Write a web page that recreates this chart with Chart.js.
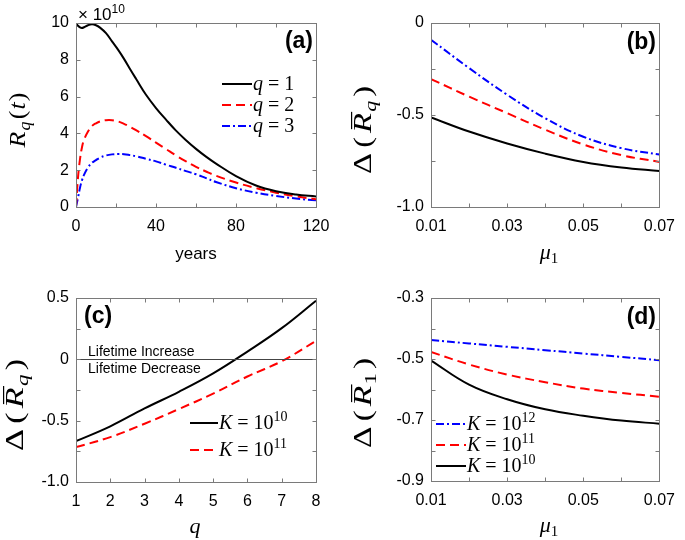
<!DOCTYPE html>
<html>
<head>
<meta charset="utf-8">
<script src="https://cdn.jsdelivr.net/npm/chart.js@4.4.1/dist/chart.umd.min.js"></script>
<style>
  body { margin:0; background:#fff; }
  #wrap { position:relative; width:685px; height:540px; }
  canvas { position:absolute; }
</style>
</head>
<body>
<div id="wrap">
  <canvas id="pa" width="340" height="270" style="left:0;top:0"></canvas>
  <canvas id="pb" width="345" height="270" style="left:340px;top:0"></canvas>
  <canvas id="pc" width="340" height="270" style="left:0;top:270px"></canvas>
  <canvas id="pd" width="345" height="270" style="left:340px;top:270px"></canvas>
</div>
<script>
// panel (a): R_q(t), units of 1e10
var years = [0,1,2,3,4,6,8,10,12,15,18,21,24,27,30,35,40,45,50,55,60,65,70,80,90,100,110,120];
var rq1 = [10.0,9.85,9.76,9.73,9.77,9.88,9.93,9.88,9.75,9.45,9.0,8.55,8.05,7.5,6.97,6.1,5.38,4.75,4.15,3.63,3.16,2.74,2.36,1.68,1.17,0.86,0.68,0.57];
var rq2 = [0,1.6,2.6,3.25,3.65,4.1,4.4,4.55,4.65,4.72,4.72,4.65,4.52,4.36,4.18,3.85,3.5,3.15,2.8,2.48,2.18,1.93,1.7,1.33,1.03,0.78,0.58,0.42];
var rq3 = [0,0.5,1.05,1.45,1.75,2.15,2.4,2.55,2.68,2.8,2.86,2.88,2.87,2.82,2.76,2.62,2.48,2.3,2.13,1.95,1.78,1.57,1.36,1.02,0.78,0.6,0.46,0.36];
var aXTicks = [0,20,40,60,80,100,120];
var aXLabels = ['0','','40','','80','','120'];
var aYTicks = [0,2,4,6,8,10];
var aYLabels = ['0','2','4','6','8','10'];

// panel (b): Delta(R_q) vs mu1
var mu = [0.01,0.02,0.03,0.04,0.05,0.06,0.07];
var bq1 = [-0.513,-0.59,-0.655,-0.71,-0.755,-0.785,-0.805];
var bq2 = [-0.305,-0.40,-0.49,-0.58,-0.66,-0.718,-0.755];
var bq3 = [-0.091,-0.245,-0.39,-0.518,-0.618,-0.68,-0.715];
var muLabels = ['0.01','','0.03','','0.05','','0.07'];
var bYTicks = [-1,-0.75,-0.5,-0.25,0];
var bYLabels = ['-1.0','','-0.5','','0'];

// panel (c): Delta(R_q) vs q
var qs = [1,2,3,4,5,6,7,8];
var cK10 = [-0.667,-0.546,-0.40,-0.265,-0.115,0.063,0.254,0.478];
var cK11 = [-0.716,-0.634,-0.525,-0.405,-0.28,-0.14,-0.015,0.15];
var cXLabels = ['1','2','3','4','5','6','7','8'];
var cYTicks = [-1,-0.75,-0.5,-0.25,0,0.25,0.5];
var cYLabels = ['-1.0','','-0.5','','0','','0.5'];

// panel (d): Delta(R_1) vs mu1
var dK12 = [-0.438,-0.449,-0.46,-0.471,-0.482,-0.493,-0.504];
var dK11 = [-0.477,-0.518,-0.551,-0.576,-0.597,-0.611,-0.624];
var dK10 = [-0.505,-0.584,-0.632,-0.665,-0.686,-0.702,-0.712];
var dYTicks = [-0.9,-0.8,-0.7,-0.6,-0.5,-0.4,-0.3];
var dYLabels = ['-0.9','','-0.7','','-0.5','','-0.3'];

var SANS = '"Liberation Sans", Arial, sans-serif';
var SERIF = '"Liberation Serif", "Times New Roman", serif';
function it(s) { return 'italic ' + s + 'px ' + SERIF; }
function rm(s) { return s + 'px ' + SERIF; }

var solid = [], dashed = [9,5], dashdot = [8,3,2,3];

function pts(xs, ys) { return xs.map(function(x, i) { return {x: x, y: ys[i]}; }); }

function ds(label, xs, ys, color, dash) {
    return {
        label: label,
        data: pts(xs, ys),
        borderColor: color,
        borderDash: dash,
        borderWidth: 2,
        pointRadius: 0,
        fill: false,
        tension: 0.4
    };
}

// text made of parts [text, font, dy, overlineHeight, gapAfter]
function measure(ctx, parts) {
    var w = 0;
    parts.forEach(function(p) { ctx.font = p[1]; w += ctx.measureText(p[0]).width + (p[4] || 0); });
    return w;
}
function rich(ctx, parts, x, y, align) {
    var w = measure(ctx, parts);
    var cx = align === 'center' ? x - w / 2 : (align === 'right' ? x - w : x);
    ctx.textAlign = 'left';
    ctx.textBaseline = 'alphabetic';
    parts.forEach(function(p) {
        ctx.font = p[1];
        var pw = ctx.measureText(p[0]).width;
        ctx.fillText(p[0], cx, y + (p[2] || 0));
        if (p[3]) ctx.fillRect(cx + 3, y - p[3], pw - 2, 1.2);
        cx += pw + (p[4] || 0);
    });
}
function yTitle(ctx, parts, baseX, cy, len) {
    ctx.save();
    ctx.translate(baseX, cy);
    ctx.rotate(-Math.PI / 2);
    var w = measure(ctx, parts);
    ctx.scale(len / w, 1);
    rich(ctx, parts, 0, 0, 'center');
    ctx.restore();
}

function drawFrame(chart, ex) {
    var ctx = chart.ctx, a = chart.chartArea, sx = chart.scales.x, sy = chart.scales.y;
    ctx.save();
    if (ex.zeroLine) {
        var zy = Math.round(sy.getPixelForValue(0)) + 0.5;
        ctx.strokeStyle = '#444'; ctx.lineWidth = 1;
        ctx.beginPath(); ctx.moveTo(a.left, zy); ctx.lineTo(a.right, zy); ctx.stroke();
    }
    ctx.strokeStyle = '#7a7a7a';
    ctx.lineWidth = 1;
    var L = Math.round(a.left) + 0.5, R = Math.round(a.right) + 0.5;
    var T = Math.round(a.top) + 0.5, B = Math.round(a.bottom) + 0.5;
    ctx.strokeRect(L, T, R - L, B - T);
    ctx.beginPath();
    sx.ticks.forEach(function(t) {
        var px = Math.round(sx.getPixelForValue(t.value)) + 0.5;
        ctx.moveTo(px, B); ctx.lineTo(px, B - 4);
        ctx.moveTo(px, T); ctx.lineTo(px, T + 4);
    });
    sy.ticks.forEach(function(t) {
        var py = Math.round(sy.getPixelForValue(t.value)) + 0.5;
        ctx.moveTo(L, py); ctx.lineTo(L + 4, py);
        ctx.moveTo(R, py); ctx.lineTo(R - 4, py);
    });
    ctx.stroke();

    ctx.fillStyle = '#000';
    var lg = ex.legend;
    if (lg) {
        chart.data.datasets.forEach(function(d, i) {
            var y = lg.y + i * lg.step;
            ctx.strokeStyle = d.borderColor; ctx.lineWidth = 2;
            ctx.setLineDash(d.borderDash);
            ctx.beginPath(); ctx.moveTo(lg.x, y); ctx.lineTo(lg.x + lg.w, y); ctx.stroke();
            ctx.setLineDash([]);
            rich(ctx, lg.texts[i], lg.x + lg.w + 1, y + 6, 'left');
        });
    }
    ctx.font = 'bold 23px ' + SANS;
    ctx.textAlign = ex.tag.align; ctx.textBaseline = 'alphabetic';
    ctx.fillText(ex.tag.text, ex.tag.x, ex.tag.y);
    rich(ctx, ex.xTitle.parts, ex.xTitle.x, ex.xTitle.y, 'center');
    yTitle(ctx, ex.yTitle.parts, ex.yTitle.x, ex.yTitle.y, ex.yTitle.len);
    if (ex.draw) ex.draw(ctx);
    ctx.restore();
}

function makeChart(id, datasets, cfg) {
    return new Chart(document.getElementById(id), {
        type: 'line',
        data: { datasets: datasets },
        plugins: [{ id: 'frame', afterDraw: function(chart) { drawFrame(chart, cfg.extra); } }],
        options: {
            responsive: false,
            animation: false,
            devicePixelRatio: 1,
            layout: { padding: { left: 0, top: cfg.top, right: cfg.w - cfg.right, bottom: 0 } },
            plugins: { legend: { display: false }, tooltip: { enabled: false } },
            scales: {
                x: {
                    type: 'linear', min: cfg.xMin, max: cfg.xMax,
                    grid: { display: false, drawTicks: false },
                    border: { display: false },
                    afterBuildTicks: function(s) { s.ticks = cfg.xTicks.map(function(v) { return {value: v}; }); },
                    afterFit: function(s) { s.height = 270 - cfg.bottom; },
                    ticks: { autoSkip: false, maxRotation: 0, padding: 10, color: '#000',
                        font: { family: SANS, size: 16 },
                        callback: function(v, i) { return cfg.xLabels[i]; } }
                },
                y: {
                    min: cfg.yMin, max: cfg.yMax,
                    grid: { display: false, drawTicks: false },
                    border: { display: false },
                    afterBuildTicks: function(s) { s.ticks = cfg.yTicks.map(function(v) { return {value: v}; }); },
                    afterFit: function(s) { s.width = cfg.left; },
                    ticks: { autoSkip: false, padding: 7, color: '#000',
                        font: { family: SANS, size: 16 },
                        callback: function(v, i) { return cfg.yLabels[i]; } }
                }
            }
        }
    });
}

var deltaRq = [['\u0394', rm(25), 0, 0, 4], ['(', rm(25), 0, 0, 3], ['R', it(25), 0, 20, 1], ['q', it(17), 5, 0, 3], [')', rm(25)]];
var deltaR1 = [['\u0394', rm(25), 0, 0, 4], ['(', rm(25), 0, 0, 3], ['R', it(25), 0, 20, 1], ['1', rm(17), 5, 0, 3], [')', rm(25)]];
var muTitle = [['\u03bc', it(22)], ['1', rm(15), 4]];

makeChart('pa', [
    ds('q = 1', years, rq1, '#000000', solid),
    ds('q = 2', years, rq2, '#ff0000', dashed),
    ds('q = 3', years, rq3, '#0000ff', dashdot)
], {
    w: 340, left: 76, right: 316, top: 23, bottom: 207,
    xMin: 0, xMax: 120, yMin: 0, yMax: 10,
    xTicks: aXTicks, xLabels: aXLabels, yTicks: aYTicks, yLabels: aYLabels,
    extra: {
        legend: { x: 222, y: 84, step: 21, w: 30, texts: [
            [['q', it(20)], [' = 1', rm(20)]],
            [['q', it(20)], [' = 2', rm(20)]],
            [['q', it(20)], [' = 3', rm(20)]]] },
        tag: { text: '(a)', x: 313, y: 48, align: 'right' },
        xTitle: { parts: [['years', '17px ' + SANS]], x: 196, y: 259 },
        yTitle: { parts: [['R', it(23), 0, 0, 1], ['q', it(16), 5, 0, 2], ['(', rm(23), 0, 0, 1], ['t', it(23), 0, 0, 1], [')', rm(23)]], x: 25, y: 120, len: 55 },
        draw: function(ctx) {
            rich(ctx, [['\u00d7 10', '17px ' + SANS], ['10', '12px ' + SANS, -7]], 78, 20, 'left');
        }
    }
});

makeChart('pb', [
    ds('q = 1', mu, bq1, '#000000', solid),
    ds('q = 2', mu, bq2, '#ff0000', dashed),
    ds('q = 3', mu, bq3, '#0000ff', dashdot)
], {
    w: 345, left: 91, right: 328, top: 23, bottom: 207,
    xMin: 0.01, xMax: 0.07, yMin: -1, yMax: 0,
    xTicks: mu, xLabels: muLabels, yTicks: bYTicks, yLabels: bYLabels,
    extra: {
        tag: { text: '(b)', x: 316, y: 49, align: 'right' },
        xTitle: { parts: muTitle, x: 209, y: 259 },
        yTitle: { parts: deltaRq, x: 31, y: 130, len: 88 }
    }
});

makeChart('pc', [
    ds('K = 10^10', qs, cK10, '#000000', solid),
    ds('K = 10^11', qs, cK11, '#ff0000', dashed)
], {
    w: 340, left: 76, right: 316, top: 28, bottom: 212,
    xMin: 1, xMax: 8, yMin: -1, yMax: 0.5,
    xTicks: qs, xLabels: cXLabels, yTicks: cYTicks, yLabels: cYLabels,
    extra: {
        zeroLine: true,
        legend: { x: 190, y: 153, step: 27, w: 28, texts: [
            [['K', it(20)], [' = 10', rm(20)], ['10', rm(14), -8]],
            [['K', it(20)], [' = 10', rm(20)], ['11', rm(14), -8]]] },
        tag: { text: '(c)', x: 84, y: 53, align: 'left' },
        xTitle: { parts: [['q', it(22)]], x: 195, y: 263 },
        yTitle: { parts: deltaRq, x: 23, y: 135, len: 92 },
        draw: function(ctx) {
            ctx.font = '14px ' + SANS;
            ctx.textAlign = 'left';
            ctx.fillText('Lifetime Increase', 88, 86);
            ctx.fillText('Lifetime Decrease', 88, 103);
        }
    }
});

makeChart('pd', [
    ds('K = 10^12', mu, dK12, '#0000ff', dashdot),
    ds('K = 10^11', mu, dK11, '#ff0000', dashed),
    ds('K = 10^10', mu, dK10, '#000000', solid)
], {
    w: 345, left: 91, right: 328, top: 28, bottom: 211,
    xMin: 0.01, xMax: 0.07, yMin: -0.9, yMax: -0.3,
    xTicks: mu, xLabels: muLabels, yTicks: dYTicks, yLabels: dYLabels,
    extra: {
        legend: { x: 96, y: 154, step: 21, w: 30, texts: [
            [['K', it(20)], [' = 10', rm(20)], ['12', rm(14), -8]],
            [['K', it(20)], [' = 10', rm(20)], ['11', rm(14), -8]],
            [['K', it(20)], [' = 10', rm(20)], ['10', rm(14), -8]]] },
        tag: { text: '(d)', x: 316, y: 54, align: 'right' },
        xTitle: { parts: muTitle, x: 209, y: 262 },
        yTitle: { parts: deltaR1, x: 31, y: 133, len: 90 }
    }
});
</script>
</body>
</html>
